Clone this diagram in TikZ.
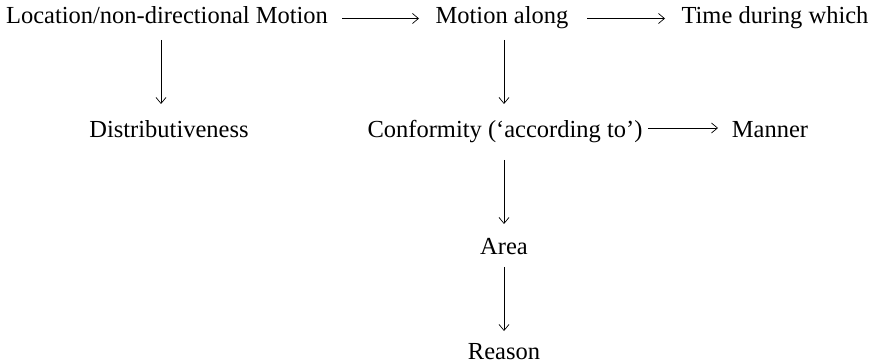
\documentclass[tikz,border=0pt]{standalone}
\usepackage{fontspec}
\usetikzlibrary{arrows.meta}
\setmainfont{Liberation Serif}
\begin{document}
\begin{tikzpicture}[x=1pt,y=-1pt,
  lbl/.style={inner sep=0pt,anchor=base,font=\fontsize{24.5}{28}\selectfont},
  conn/.style={-{Straight Barb[length=6pt,width=10pt,line width=0.7pt]},line width=0.7pt}]
\useasboundingbox (0,0) rectangle (875,363);
% nodes, placed by baseline
\node[lbl] (loc) at (167,24) {Location/non-directional Motion};
\node[lbl] (mot) at (502,24) {Motion along};
\node[lbl] (tim) at (775,24) {Time during which};
\node[lbl] (dis) at (169,138) {Distributiveness};
\node[lbl] (con) at (505,138) {Conformity (‘according to’)};
\node[lbl] (man) at (770,138) {Manner};
\node[lbl] (are) at (504,255) {Area};
\node[lbl] (rea) at (504,359) {Reason};
% connector end points
\coordinate (a1) at (342,18.5); \coordinate (a2) at (419,18.5);
\coordinate (b1) at (587,18.5); \coordinate (b2) at (665,18.5);
\coordinate (c1) at (648,128);  \coordinate (c2) at (718,128);
\coordinate (d1) at (161,40);   \coordinate (d2) at (161,104);
\coordinate (e1) at (504,40);   \coordinate (e2) at (504,104);
\coordinate (f1) at (504,160);  \coordinate (f2) at (504,224);
\coordinate (g1) at (504,267);  \coordinate (g2) at (504,331);
% connectors
\draw[conn] (a1) -- (a2);
\draw[conn] (b1) -- (b2);
\draw[conn] (c1) -- (c2);
\draw[conn] (d1) -- (d2);
\draw[conn] (e1) -- (e2);
\draw[conn] (f1) -- (f2);
\draw[conn] (g1) -- (g2);
\end{tikzpicture}
\end{document}
